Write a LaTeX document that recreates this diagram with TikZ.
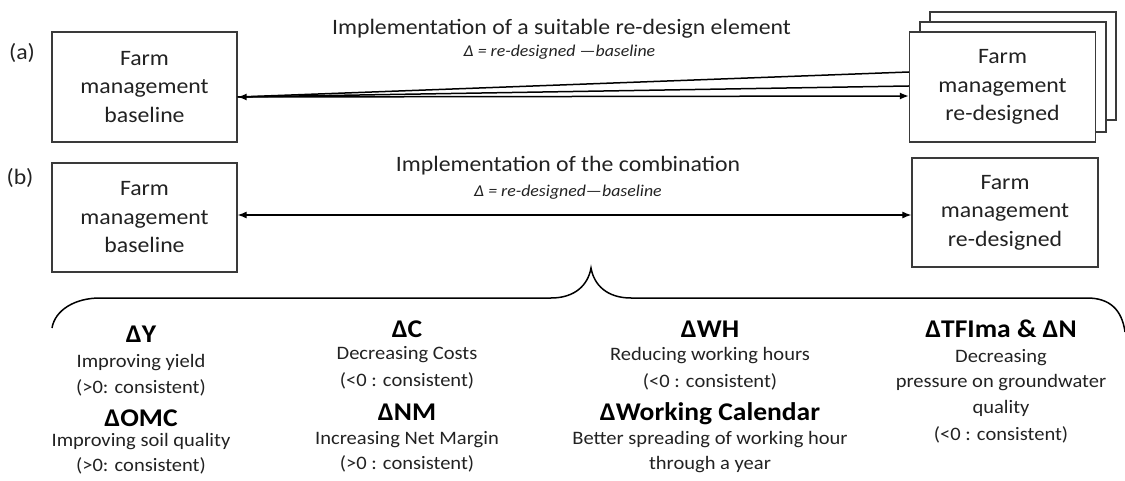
\documentclass[tikz,border=0pt]{standalone}
\usepackage{fontspec}
\setmainfont{Carlito}[FakeStretch=1.08]
\usetikzlibrary{arrows.meta,calc}
\definecolor{ink}{HTML}{222222}
\definecolor{frame}{HTML}{3A3A3A}
\tikzset{
  fbox/.style={draw=frame, line width=1.3pt, fill=white, minimum width=186pt, minimum height=110pt,
    inner sep=0pt, align=center, text=ink, font=\fontsize{22}{28.5}\selectfont},
  conn/.style={draw=black, line width=1.5pt},
  title/.style={anchor=base, text=ink, inner sep=0pt, font=\fontsize{22}{26}\selectfont},
  subtitle/.style={anchor=base, text=ink, inner sep=0pt, font=\fontsize{16.5}{20}\selectfont\itshape},
  lab/.style={text=ink, inner sep=0pt, font=\fontsize{22}{26}\selectfont},
  head/.style={anchor=base, text=black, inner sep=0pt, font=\fontsize{25.5}{30}\selectfont\bfseries},
  body/.style={anchor=base, text=ink, inner sep=0pt, font=\fontsize{19}{23}\selectfont},
  brace/.style={draw=black, line width=1.5pt}
}
\begin{document}
\begin{tikzpicture}[x=1pt,y=-1pt]
\useasboundingbox (0,0) rectangle (1125,481);
% labels
\node[lab] (la) at (22,53) {(a)};
\node[lab] (lb) at (20,178) {(b)};
% boxes row (a)
\node[fbox, minimum width=185pt] (aL) at (144.5,87) {Farm\\management\\baseline};
\node[fbox, minimum height=108pt] (aR3) at (1023,66) {};
\node[fbox, minimum height=110pt] (aR2) at (1013,77) {};
\node[fbox] (aR) at (1002.5,87) {Farm\\management\\re-designed};
% boxes row (b)
\node[fbox, minimum width=185pt, minimum height=109pt] (bL) at (144.5,217.5) {Farm\\management\\baseline};
\node[fbox, minimum height=109pt] (bR) at (1005,212.5) {Farm\\management\\re-designed};
% titles
\node[title] (t1) at (561.5,35) {Implementation of a suitable re-design element};
\node[subtitle] (s1) at (559.5,57) {Δ = re-designed —baseline};
\node[title] (t2) at (568,172) {Implementation of the combination};
\node[subtitle] (s2) at (568,197) {Δ = re-designed—baseline};
% connectors (a)
\coordinate (aLpt) at ([yshift=-10pt]aL.east);
\draw[conn] (aLpt) -- ([yshift=15pt]aR.west);
\draw[conn] (aLpt) -- ([yshift=1pt]aR.west);
\draw[conn, {Latex[length=9pt,width=7pt]}-{Latex[length=9pt,width=7pt]}] (aLpt) -- ([yshift=-9pt]aR.west);
% connector (b)
\draw[conn, line width=1.2pt, {Latex[length=9pt,width=7pt]}-{Latex[length=9pt,width=7pt]}] ([yshift=2.5pt]bL.east) -- ([yshift=2.5pt]bL.east -| bR.west);
% brace
\draw[brace] (52,328) .. controls (55,310) and (75,298) .. (100,298) -- (551,298)
  .. controls (575,298) and (588,285) .. (591,268)
  .. controls (594,285) and (607,298) .. (631,298) -- (1087,298)
  .. controls (1110,298) and (1122,310) .. (1125,332);
% column 1
\node[head] (c1a) at (141,342) {ΔY};
\node[body] (c1b) at (141,367) {Improving yield};
\node[body] (c1c) at (141,393) {(>0: consistent)};
\node[head] (c1d) at (141,426) {ΔOMC};
\node[body] (c1e) at (141,446) {Improving soil quality};
\node[body] (c1f) at (141,471) {(>0: consistent)};
% column 2
\node[head] (c2a) at (407,337) {ΔC};
\node[body] (c2b) at (407,359) {Decreasing Costs};
\node[body] (c2c) at (407,386) {(<0 : consistent)};
\node[head] (c2d) at (407,420) {ΔNM};
\node[body] (c2e) at (407,444) {Increasing Net Margin};
\node[body] (c2f) at (407,469) {(>0 : consistent)};
% column 3
\node[head] (c3a) at (710,337) {ΔWH};
\node[body] (c3b) at (710,360) {Reducing working hours};
\node[body] (c3c) at (710,387) {(<0 : consistent)};
\node[head] (c3d) at (710,420) {ΔWorking Calendar};
\node[body] (c3e) at (710,444) {Better spreading of working hour};
\node[body] (c3f) at (710,469) {through a year};
% column 4
\node[head] (c4a) at (1001,337) {ΔTFIma \& ΔN};
\node[body] (c4b) at (1001,362) {Decreasing};
\node[body] (c4c) at (1001,387) {pressure on groundwater};
\node[body] (c4d) at (1001,413) {quality};
\node[body] (c4e) at (1001,440) {(<0 : consistent)};
\end{tikzpicture}
\end{document}
